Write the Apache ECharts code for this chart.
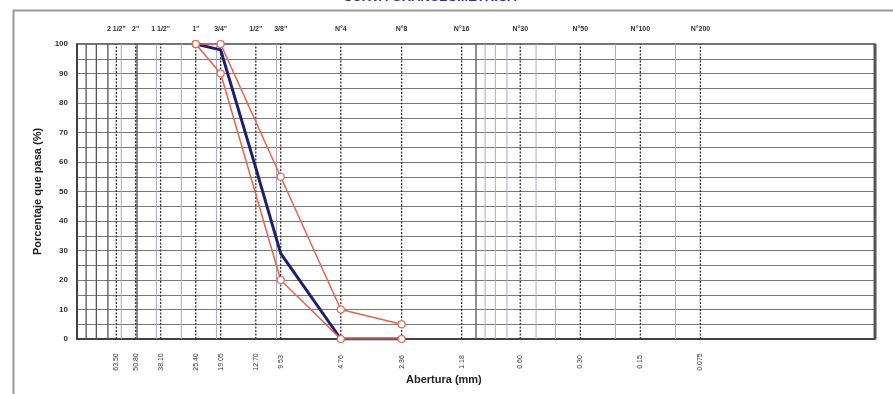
<!DOCTYPE html>
<html>
<head>
<meta charset="utf-8">
<script src="https://cdn.jsdelivr.net/npm/echarts@6/dist/echarts.min.js"></script>
<style>html,body{margin:0;padding:0;background:#fff}#c{width:893px;height:394px}</style>
</head>
<body>
<div id="c"></div>
<script>
// ---- data ----
const sieveSizes = [63.5, 50.8, 38.1, 25.4, 19.05, 12.7, 9.53, 4.76, 2.36, 1.18, 0.6, 0.3, 0.15, 0.075];
const sieveTopLabels = ['2 1/2"', '2"', '1 1/2"', '1"', '3/4"', '1/2"', '3/8"', 'N°4', 'N°8', 'N°16', 'N°30', 'N°50', 'N°100', 'N°200'];
const sieveBottomLabels = ['63.50', '50.80', '38.10', '25.40', '19.05', '12.70', '9.53', '4.76', '2.36', '1.18', '0.60', '0.30', '0.15', '0.075'];
const gridDark = [90, 80, 70, 50, 1];
const gridLight = [60, 40, 30, 20, 10, 0.9, 0.8, 0.7, 0.5, 0.4, 0.2, 0.1];
const curveSizes = [25.4, 19.05, 12.7, 9.53, 4.76, 2.36];
const curvePass = [100, 98, 58, 29, 0, 0];
const limitSizes = [25.4, 19.05, 9.53, 4.76, 2.36];
const upperLimit = [100, 100, 55, 10, 5];
const lowerLimit = [100, 90, 20, 0, 0];
const yTicks = [0, 10, 20, 30, 40, 50, 60, 70, 80, 90, 100];

const chart = echarts.init(document.getElementById('c'));
const pair = (xs, ys) => xs.map((x, i) => [x, ys[i]]);

function vline(color, width, dash) {
  return function (params, api) {
    const x = api.value(0);
    const p0 = api.coord([x, 0]);
    const p1 = api.coord([x, 100]);
    return {type: 'line', shape: {x1: p0[0], y1: p0[1], x2: p1[0], y2: p1[1]},
      style: {stroke: color, lineWidth: width, lineDash: dash || null}};
  };
}

const redStyle = '#e2654e';

chart.setOption({
  animation: false,
  grid: {left: 77, right: 18, top: 44, bottom: 55, show: true, borderColor: '#444', borderWidth: 1.5},
  xAxis: {type: 'log', logBase: 10, min: 0.01, max: 100, inverse: true,
    axisLabel: {show: false}, axisTick: {show: false}, splitLine: {show: false},
    axisLine: {lineStyle: {color: '#333', width: 1.5}}},
  yAxis: {type: 'value', min: 0, max: 100, interval: 5,
    axisLabel: {formatter: v => (yTicks.indexOf(v) >= 0 ? String(v) : ''), fontSize: 8, fontWeight: 'bold',
      color: '#333', margin: 9, fontFamily: 'Liberation Sans'},
    axisTick: {show: false},
    axisLine: {lineStyle: {color: '#333', width: 1.5}},
    splitLine: {lineStyle: {color: '#7a7a7a', width: 1.2}},
    name: 'Porcentaje que pasa (%)', nameLocation: 'middle', nameGap: 31,
    nameTextStyle: {fontSize: 11, fontWeight: 'bold', color: '#222', fontFamily: 'Liberation Sans'}},
  graphic: [
    {type: 'rect', left: 11, top: 8, shape: {width: 900, height: 400}, style: {fill: 'none', stroke: '#9a9a9a', lineWidth: 2}, z: -1},
    {type: 'text', x: 343, y: -9, style: {text: 'CURVA GRANULOMETRICA', fontSize: 13, fontWeight: 'bold', fill: '#2a2aa8', fontFamily: 'Liberation Sans'}},
    {type: 'text', left: 406, top: 374, style: {text: 'Abertura (mm)', fontSize: 11, fontWeight: 'bold', fill: '#222', fontFamily: 'Liberation Sans'}}
  ],
  series: [
    {type: 'custom', z: 1, clip: false, silent: true, data: gridLight.map(v => [v]), encode: {x: 0},
      renderItem: vline('#a9a9c6', 1)},
    {type: 'custom', z: 1, clip: false, silent: true, data: gridDark.map(v => [v]), encode: {x: 0},
      renderItem: vline('#555', 1.3)},
    {type: 'custom', z: 1, clip: false, silent: true, data: [[0.01]], encode: {x: 0},
      renderItem: vline('#555', 3)},
    {type: 'custom', z: 2, clip: false, silent: true,
      data: sieveSizes.map((v, i) => [v, i]), encode: {x: 0},
      renderItem: function (params, api) {
        const x = api.value(0);
        const i = params.dataIndex;
        const p0 = api.coord([x, 0]);
        const p1 = api.coord([x, 100]);
        return {type: 'group', children: [
          {type: 'line', shape: {x1: p0[0], y1: p0[1], x2: p1[0], y2: p1[1]},
            style: {stroke: '#333', lineWidth: 1.3, lineDash: [2, 1.5]}},
          {type: 'text', x: p1[0], y: p1[1] - 15,
            style: {text: sieveTopLabels[i], fontSize: 7, fontWeight: 'bold', fill: '#333', align: 'center', verticalAlign: 'middle', fontFamily: 'Liberation Sans'}},
          {type: 'text', x: p0[0], y: p0[1] + 23, rotation: Math.PI / 2,
            style: {text: sieveBottomLabels[i], fontSize: 7, fill: '#333', align: 'center', verticalAlign: 'middle', fontFamily: 'Liberation Sans'}}
        ]};
      }},
    {type: 'line', z: 3, data: pair(curveSizes, curvePass), showSymbol: false, symbol: 'none',
      lineStyle: {color: '#1f1f70', width: 3}},
    {type: 'line', z: 4, data: pair(limitSizes, upperLimit), symbol: 'circle', symbolSize: 7,
      lineStyle: {color: redStyle, width: 1.5}, itemStyle: {color: '#fff', borderColor: redStyle, borderWidth: 1.2}},
    {type: 'line', z: 4, data: pair(limitSizes, lowerLimit), symbol: 'circle', symbolSize: 7,
      lineStyle: {color: redStyle, width: 1.5}, itemStyle: {color: '#fff', borderColor: redStyle, borderWidth: 1.2}}
  ]
});
</script>
</body>
</html>
